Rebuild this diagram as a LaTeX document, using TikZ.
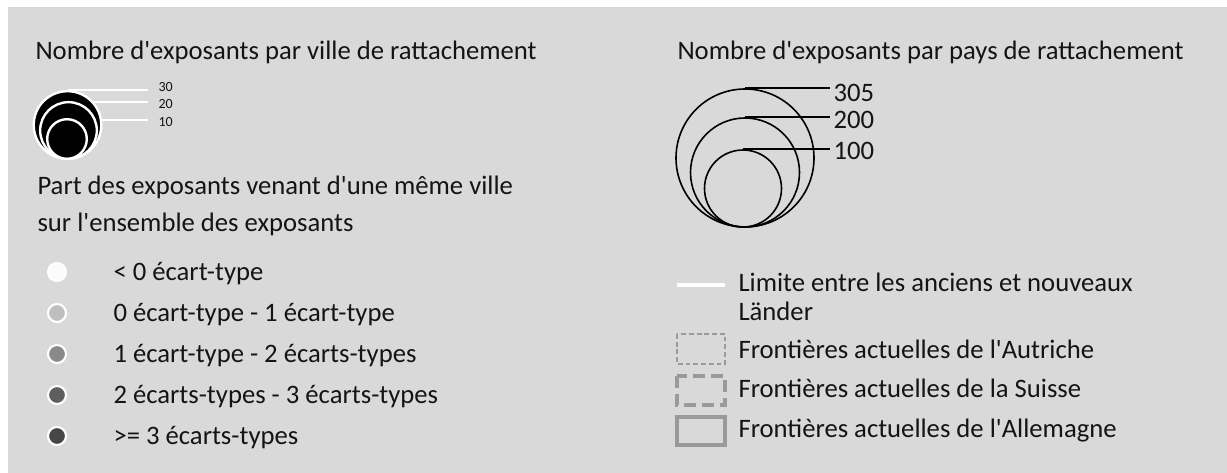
\documentclass[tikz,border=0pt]{standalone}
\usepackage{fontspec}
\setmainfont{Carlito}[Ligatures=TeXOff]

\definecolor{panel}{HTML}{D9D9D9}
\definecolor{ink}{HTML}{141414}
\definecolor{frontier}{HTML}{9A9A9A}
\definecolor{classA}{HTML}{FAFAFA}
\definecolor{classB}{HTML}{BFBFBF}
\definecolor{classC}{HTML}{8A8A8A}
\definecolor{classD}{HTML}{5E5E5E}
\definecolor{classE}{HTML}{474747}

\tikzset{every picture/.style={line width=0.75pt}}
\tikzset{
  legtext/.style={anchor=base west, inner sep=0pt, text=ink, font=\fontsize{20}{24}\selectfont},
  smalltext/.style={anchor=base west, inner sep=0pt, text=ink, font=\fontsize{10.5}{12}\selectfont},
  citydisc/.style={circle, fill=black, draw=white, line width=1.8pt, inner sep=0pt, minimum size=#1},
  countryring/.style={circle, draw=black, line width=1.2pt, inner sep=0pt, minimum size=#1},
  classdot/.style={circle, fill=#1, draw=white, line width=1.6pt, inner sep=0pt, minimum size=13.5pt},
  cityline/.style={draw=white, line width=1.5pt, shorten >=7.5pt},
  countryline/.style={draw=black, line width=1.2pt, shorten >=2pt},
  limitline/.style={draw=white, line width=3pt},
  austriaborder/.style={draw=frontier, line width=1.9pt, dash pattern=on 3.6pt off 2.2pt},
  swissborder/.style={draw=frontier, line width=2.4pt, dash pattern=on 9pt off 4.5pt},
  germanborder/.style={draw=frontier, line width=2.4pt}
}

\begin{document}
\begin{tikzpicture}[x=0.75pt,y=0.75pt,yscale=-1,xscale=1]
	\useasboundingbox (0,0) rectangle (1227,473);
	%Shape: Rectangle [background]
	\fill [white] (0,0) rectangle (1227,473);
	\fill [panel] (8,7) rectangle (1227,473);
	
	%Titles
	\node [legtext] (ttlcity) at (35,60) {Nombre d'exposants par ville de rattachement};
	\node [legtext] (ttlcountry) at (677,60) {Nombre d'exposants par pays de rattachement};
	
	%Text Node [city sizes]
	\node [smalltext] (n30) at (158,92) {30};
	\node [smalltext] (n20) at (158,109) {20};
	\node [smalltext] (n10) at (158,127) {10};
	%Shape: Circle [city sizes]
	\coordinate (top30) at (67.5,90);
	\coordinate (top20) at (68.5,102.5);
	\coordinate (top10) at (67,120);
	\draw [cityline] (top30) -- (top30 -| n30.west);
	\draw [cityline] (top20) -- (top20 -| n20.west);
	\draw [cityline] (top10) -- (top10 -| n10.west);
	\node [citydisc=50.7pt] (c30) at (67.5,125) {};
	\node [citydisc=42.5pt] (c20) at (68.5,130.5) {};
	\node [citydisc=29.7pt] (c10) at (67,139) {};
	
	%Text Node [share]
	\node [legtext] (ttlshare) at (37,195) {Part des exposants venant d'une même ville};
	\node [legtext] (ttlshare2) at (37,232) {sur l'ensemble des exposants};
	
	%Shape: Circle [classes]
	\node [classdot=classA] (d1) at (57,272) {};
	\node [classdot=classB] (d2) at (57,313) {};
	\node [classdot=classC] (d3) at (57,354) {};
	\node [classdot=classD] (d4) at (57,395) {};
	\node [classdot=classE] (d5) at (57,436) {};
	%Text Node [classes]
	\node [legtext] (t1) at (113,281) {< 0 écart-type};
	\node [legtext] (t2) at (113,322) {0 écart-type - 1 écart-type};
	\node [legtext] (t3) at (113,363) {1 écart-type - 2 écarts-types};
	\node [legtext] (t4) at (113,404) {2 écarts-types - 3 écarts-types};
	\node [legtext] (t5) at (113,445) {>= 3 écarts-types};
	
	%Shape: Circle [country sizes]
	\node [countryring=103.5pt] (p305) at (745,158) {};
	\node [countryring=81.75pt] (p200) at (745,172.5) {};
	\node [countryring=57.75pt] (p100) at (743,188.5) {};
	%Text Node [country sizes]
	\node [legtext] (n305) at (833,102) {305};
	\node [legtext] (n200) at (833,129) {200};
	\node [legtext] (n100) at (833,160) {100};
	\draw [countryline] (p305.north) -- (p305.north -| n305.west);
	\draw [countryline] (p200.north) -- (p200.north -| n200.west);
	\draw [countryline] (p100.north) -- (p100.north -| n100.west);
	
	%Straight Lines [limit]
	\draw [limitline] (677,285) -- (725,285);
	\node [legtext] (tlim) at (738,292) {Limite entre les anciens et nouveaux};
	\node [legtext] (tlim2) at (738,321) {Länder};
	%Shape: Rectangle [frontiers]
	\draw [austriaborder] (677,334) rectangle (725,364);
	\draw [swissborder] (677,376) rectangle (725,405);
	\draw [germanborder] (677,417) rectangle (725,445);
	\node [legtext] (taut) at (738,359) {Frontières actuelles de l'Autriche};
	\node [legtext] (tsui) at (738,398) {Frontières actuelles de la Suisse};
	\node [legtext] (tall) at (738,438) {Frontières actuelles de l'Allemagne};
	
\end{tikzpicture}
\end{document}
